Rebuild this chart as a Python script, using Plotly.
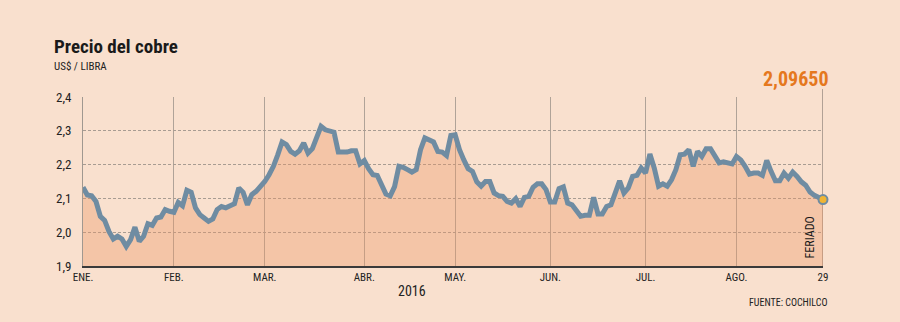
import pandas as pd
import plotly.graph_objects as go

# Trading days (weekdays) from 1 Jan 2016 to 29 Aug 2016
dates = pd.bdate_range("2016-01-01", "2016-08-29").strftime("%Y-%m-%d").tolist()

# Copper price, US$ per pound
values = [
    2.133, 2.110, 2.108, 2.091, 2.047, 2.035, 2.002, 1.980, 1.988, 1.980,
    1.958, 1.978, 2.015, 1.973, 1.988, 2.025, 2.020, 2.042, 2.045, 2.067,
    2.062, 2.059, 2.088, 2.078, 2.124, 2.118, 2.072, 2.052, 2.042, 2.032,
    2.039, 2.067, 2.076, 2.072, 2.078, 2.084, 2.131, 2.118, 2.081, 2.111,
    2.121, 2.134, 2.150, 2.170, 2.195, 2.229, 2.267, 2.259, 2.239, 2.231,
    2.241, 2.264, 2.234, 2.247, 2.283, 2.313, 2.303, 2.300, 2.296, 2.237,
    2.237, 2.237, 2.241, 2.241, 2.202, 2.212, 2.188, 2.170, 2.168, 2.143,
    2.113, 2.108, 2.135, 2.195, 2.192, 2.185, 2.178, 2.185, 2.244, 2.279,
    2.274, 2.267, 2.239, 2.237, 2.227, 2.286, 2.288, 2.244, 2.214, 2.188,
    2.180, 2.149, 2.136, 2.150, 2.150, 2.116, 2.108, 2.106, 2.091, 2.086,
    2.099, 2.076, 2.103, 2.106, 2.133, 2.143, 2.143, 2.126, 2.089, 2.089,
    2.129, 2.134, 2.086, 2.081, 2.064, 2.047, 2.050, 2.050, 2.103, 2.054,
    2.054, 2.076, 2.081, 2.121, 2.152, 2.116, 2.131, 2.165, 2.168, 2.190,
    2.175, 2.231, 2.190, 2.136, 2.143, 2.136, 2.155, 2.185, 2.229, 2.231,
    2.244, 2.195, 2.239, 2.224, 2.247, 2.247, 2.227, 2.205, 2.208, 2.205,
    2.202, 2.224, 2.214, 2.195, 2.172, 2.175, 2.175, 2.168, 2.212, 2.180,
    2.152, 2.152, 2.175, 2.160, 2.178, 2.165, 2.149, 2.139, 2.119, 2.109,
    2.101, 2.0965,
]
assert len(dates) == len(values)

tick_dates = ["2016-01-01", "2016-02-01", "2016-03-01", "2016-04-01", "2016-05-02",
              "2016-06-01", "2016-07-01", "2016-08-01", "2016-08-29"]
tick_labels = ["ENE.", "FEB.", "MAR.", "ABR.", "MAY.", "JUN.", "JUL.", "AGO.", "29"]
y_ticks = [1.9, 2.0, 2.1, 2.2, 2.3, 2.4]

BG = "#f9e0ce"
LINE = "#6f8ca2"
FONT = "Liberation Sans Narrow, Roboto Condensed, Roboto, sans-serif"
last = len(values) - 1

fig = go.Figure()
fig.add_trace(go.Scatter(
    x=dates, y=values, mode="lines",
    line=dict(color=LINE, width=5),
    fill="tozeroy", fillcolor="rgba(236,150,100,0.36)",
    hoverinfo="skip", showlegend=False,
))
fig.add_trace(go.Scatter(
    x=[dates[-1]], y=[values[-1]], mode="markers",
    marker=dict(size=9, color="#f0b534", line=dict(color=LINE, width=2)),
    cliponaxis=False, showlegend=False, hoverinfo="skip",
))

fig.add_shape(type="line", xref="x", yref="paper", x0=last, x1=last, y0=0, y1=1.047,
              line=dict(color="#6b625c", width=1), layer="below")

last_txt = f"{values[-1]:.5f}".replace(".", ",")
ann = [
    dict(text="<b>Precio del cobre</b>", xref="paper", yref="paper", x=-0.041, y=1.298,
         xanchor="left", yanchor="middle", showarrow=False, borderpad=0,
         font=dict(family=FONT, size=19, color="#1a1a1a")),
    dict(text="US$ / LIBRA", xref="paper", yref="paper", x=-0.041, y=1.180,
         xanchor="left", yanchor="middle", showarrow=False, borderpad=0,
         font=dict(family=FONT, size=11, color="#222")),
    dict(text=f"<b>{last_txt}</b>", xref="x", yref="paper", x=last, y=1.104,
         xanchor="right", yanchor="middle", xshift=8, showarrow=False,
         font=dict(family=FONT, size=20, color="#e5781e")),
    dict(text="FERIADO", xref="paper", yref="paper", x=0.9818, y=0.166,
         xanchor="center", yanchor="middle", textangle=-90, showarrow=False,
         font=dict(family=FONT, size=12, color="#1a1a1a")),
    dict(text="2016", xref="paper", yref="paper", x=0.444, y=-0.148,
         xanchor="center", yanchor="middle", showarrow=False,
         font=dict(family=FONT, size=14, color="#222")),
    dict(text="FUENTE: COCHILCO", xref="paper", yref="paper", x=1.008, y=-0.216,
         xanchor="right", yanchor="middle", showarrow=False,
         font=dict(family=FONT, size=10, color="#222")),
]

fig.update_layout(
    width=900, height=322,
    margin=dict(l=83, r=77, t=97, b=56),
    paper_bgcolor=BG, plot_bgcolor=BG,
    separators=",.",
    annotations=ann,
    font=dict(family=FONT, color="#222"),
    xaxis=dict(
        type="category", range=[0, last],
        tickmode="array", tickvals=tick_dates, ticktext=tick_labels,
        showgrid=True, gridcolor="#b0a398", gridwidth=1,
        showline=True, linecolor="#3a3a3a", linewidth=1.5,
        ticks="", tickfont=dict(size=11, color="#222"),
        zeroline=False, fixedrange=True,
    ),
    yaxis=dict(
        range=[1.9, 2.4], tickmode="array", tickvals=y_ticks, tickformat=".1f",
        showgrid=True, gridcolor="#a89c92", gridwidth=1, griddash="3px,2px",
        showline=True, linecolor="#a09890", linewidth=1,
        ticks="", ticklabelstandoff=8, tickfont=dict(size=13, color="#222"),
        zeroline=False, fixedrange=True,
    ),
)

fig.write_html("out.html")
